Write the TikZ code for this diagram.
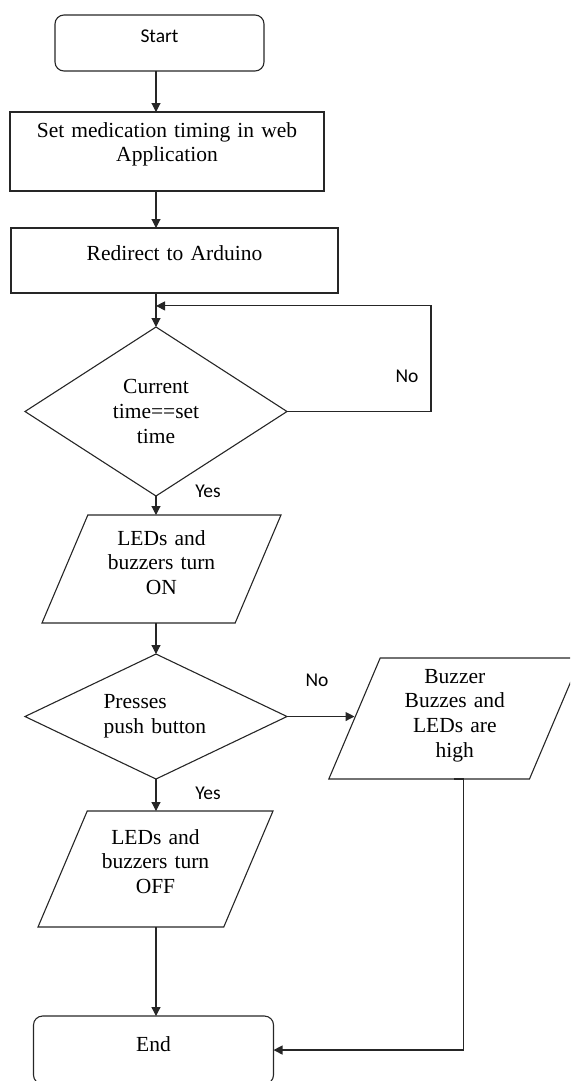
\documentclass[tikz,border=0pt]{standalone}
\usepackage{fontspec}
\setmainfont{Liberation Serif}
\newfontfamily\calibri{Carlito}
\usetikzlibrary{arrows.meta, positioning, calc, shapes.geometric}
\tikzset{
  base/.style={draw=black!85, line width=1.1pt, inner sep=0pt, outer sep=0pt, align=center,
               font=\fontsize{21.5}{24.7}\selectfont},
  term/.style={base, rectangle, rounded corners=9pt},
  proc/.style={base, rectangle},
  dec/.style={base, diamond, aspect=#1},
  dec/.default=1.55,
  io/.style={base, trapezium, trapezium left angle=67, trapezium right angle=113,
             trapezium stretches body},
  flow/.style={-{Triangle[length=9pt, width=9pt]}, line width=1.1pt, draw=black!85},
  lbl/.style={font=\calibri\fontsize{19.5}{22}\selectfont},
}
\begin{document}
\begin{tikzpicture}[x=1pt, y=-1pt]
  \useasboundingbox (0,0) rectangle (570,1081);
  \clip (0,0) rectangle (570,1081);

  \node[term, lbl, minimum width=209pt, text height=27.7pt, text depth=28.3pt] (start) at (159.5,43) {Start};
  \node[proc, below=41pt of start, xshift=7.5pt, text width=314pt,
        text height=25pt, text depth=54pt] (app) {Set medication timing in web\\Application};
  \node[proc, below=37pt of app, xshift=7.5pt, text width=327pt,
        text height=32pt, text depth=33pt] (ard) {Redirect to Arduino};
  \node[dec, below=34pt of ard, xshift=-18.5pt, minimum width=262pt, minimum height=169pt] (chk) {Current\\time==set\\time};
  \node[io, below=19pt of chk, xshift=5.5pt, minimum width=239pt, text width=130pt,
        text height=30pt, text depth=78pt] (on) {LEDs and\\buzzers turn\\ON};
  \node[dec=2.1, below=31pt of on, xshift=-5.5pt, minimum width=262pt, minimum height=125pt,
        text width=105pt, align=left] (btn) {Presses\\push button};
  \node[io, right=67.5pt of btn, yshift=-2pt, minimum width=252pt, text width=130pt,
        text height=25pt, text depth=96pt] (buzz) {Buzzer\\Buzzes and\\LEDs are\\high};
  \node[io, below=32pt of btn, xshift=-0.5pt, minimum width=235pt, text width=130pt,
        text height=33pt, text depth=83pt] (off) {LEDs and\\buzzers turn\\OFF};
  \node[term, below=89pt of off, xshift=-2pt, minimum width=240pt,
        text height=35pt, text depth=33pt] (end) {End};

  \node[lbl] (no1) at ([xshift=120pt, yshift=35pt]chk.east) {No};
  \node[lbl] (yes1) at ([xshift=52pt, yshift=5pt]chk.south) {Yes};
  \node[lbl] (no2) at ([xshift=30pt, yshift=36.5pt]btn.east) {No};
  \node[lbl] (yes2) at ([xshift=52pt, yshift=-14pt]btn.south) {Yes};

  \coordinate (merge) at ($(ard.south -| chk)!0.38!(chk.north)$);
  \draw[flow] (start.south -| chk) -- (app.north -| chk);
  \draw[flow] (app.south -| chk) -- (ard.north -| chk);
  \draw[flow] (ard.south -| chk) -- (chk.north);
  % loop back while waiting
  \draw[flow] (chk.east) -- ++(144,0) |- (merge);
  \draw[flow] (chk.south) -- (on.north -| chk);
  \draw[flow] (on.south -| btn) -- (btn.north);
  \draw[flow] (btn.east) -- (btn.east -| buzz.west);
  \draw[flow] (btn.south) -- (off.north -| btn);
  \draw[flow] (off.south -| btn) -- (end.north -| btn);
  \draw[flow] ([xshift=-1pt]buzz.south) -- ([xshift=8.5pt]buzz.south) |- (end.east);
\end{tikzpicture}
\end{document}
